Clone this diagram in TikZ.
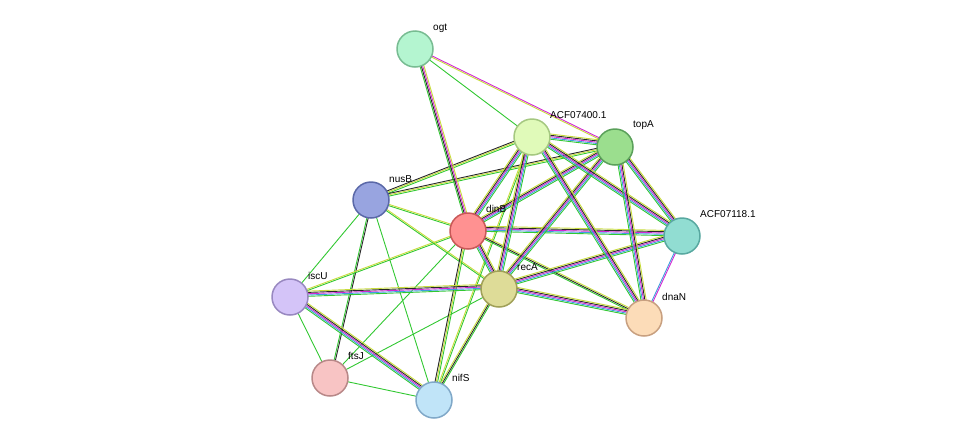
\documentclass[tikz,border=0pt]{standalone}
\usepackage{fontspec}
\setmainfont{Liberation Sans}
\usetikzlibrary{calc,positioning}
\definecolor{eGreen}{RGB}{50,200,50}
\definecolor{eMag}{RGB}{210,40,210}
\definecolor{eBlue}{RGB}{60,160,220}
\definecolor{eBlack}{RGB}{40,40,40}
\definecolor{eYel}{RGB}{200,220,60}
\tikzset{
  prot/.style={circle, line width=1.5pt, minimum size=36pt, inner sep=0pt},
  lbl/.style={font=\fontsize{10}{12}\selectfont, anchor=west, inner sep=0pt},
  bond/.style={line width=0.9pt}
}
% \edge{from}{to}{colour list}
\newcommand{\edge}[3]{%
  \foreach \c [count=\k] in {#3} {
    \pgfmathsetmacro{\off}{(\k-1)*1.3}
    \draw[bond, \c] ($(#1)!\off pt!90:(#2)$) -- ($(#2)!\off pt!-90:(#1)$);
  }}
\begin{document}
\begin{tikzpicture}[x=1pt, y=-1pt]
  \useasboundingbox (0,0) rectangle (976,445);
  % coordinates of the proteins
  \coordinate (ogt) at (415,49);
  \coordinate (acfa) at (532,137);
  \coordinate (topA) at (615,147);
  \coordinate (nusB) at (371,200);
  \coordinate (dinB) at (468,231);
  \coordinate (acfb) at (682,236);
  \coordinate (recA) at (499,289);
  \coordinate (iscU) at (290,297);
  \coordinate (dnaN) at (644,318);
  \coordinate (ftsJ) at (330,378);
  \coordinate (nifS) at (434,400);

  % simple links
  \edge{nusB}{iscU}{eGreen}
  \edge{nusB}{nifS}{eGreen}
  \edge{nusB}{ftsJ}{eGreen,eBlack}
  \edge{iscU}{ftsJ}{eGreen}
  \edge{ftsJ}{nifS}{eGreen}
  \edge{ftsJ}{dinB}{eGreen}
  \edge{ftsJ}{recA}{eGreen}
  \edge{iscU}{dinB}{eGreen,eYel}
  \edge{nusB}{dinB}{eGreen,eYel}
  \edge{nusB}{recA}{eGreen,eYel}
  \edge{nusB}{acfa}{eGreen,eYel,eBlack}
  \edge{nusB}{topA}{eGreen,eYel,eBlack}
  \edge{ogt}{acfa}{eGreen}
  \edge{ogt}{topA}{eYel,eMag}
  \edge{nifS}{acfa}{eGreen,eYel}
  \edge{nifS}{dinB}{eGreen,eYel,eBlack}
  \edge{nifS}{recA}{eGreen,eBlack,eYel}
  % rich links
  \edge{ogt}{dinB}{eGreen,eBlack,eMag,eYel}
  \edge{iscU}{recA}{eGreen,eBlue,eMag,eBlack,eYel}
  \edge{iscU}{nifS}{eGreen,eBlue,eMag,eBlack,eYel}
  \edge{dinB}{recA}{eGreen,eBlue,eMag,eBlack,eYel}
  \edge{dinB}{acfa}{eGreen,eBlue,eMag,eBlack,eYel}
  \edge{dinB}{topA}{eGreen,eBlue,eMag,eBlack,eYel}
  \edge{dinB}{acfb}{eGreen,eBlue,eMag,eBlack,eYel}
  \edge{dinB}{dnaN}{eGreen,eBlack,eYel}
  \edge{recA}{acfa}{eGreen,eBlue,eMag,eBlack,eYel}
  \edge{recA}{topA}{eGreen,eBlue,eMag,eBlack,eYel}
  \edge{recA}{acfb}{eGreen,eBlue,eMag,eBlack,eYel}
  \edge{recA}{dnaN}{eGreen,eBlue,eMag,eBlack,eYel}
  \edge{acfa}{topA}{eGreen,eBlue,eMag,eBlack,eYel}
  \edge{acfa}{acfb}{eGreen,eBlue,eMag,eBlack,eYel}
  \edge{acfa}{dnaN}{eGreen,eBlue,eMag,eBlack,eYel}
  \edge{topA}{acfb}{eGreen,eBlue,eMag,eBlack,eYel}
  \edge{topA}{dnaN}{eGreen,eBlue,eMag,eBlack,eYel}
  \edge{acfb}{dnaN}{eBlue,eMag}

  % protein nodes
  \node[prot, fill={rgb,255:red,180;green,245;blue,208}, draw={rgb,255:red,120;green,188;blue,146}] (n-ogt) at (ogt) {};
  \node[prot, fill={rgb,255:red,224;green,250;blue,185}, draw={rgb,255:red,165;green,200;blue,128}] (n-acfa) at (acfa) {};
  \node[prot, fill={rgb,255:red,155;green,222;blue,142}, draw={rgb,255:red,90;green,160;blue,90}] (n-topA) at (topA) {};
  \node[prot, fill={rgb,255:red,152;green,164;blue,224}, draw={rgb,255:red,90;green,104;blue,168}] (n-nusB) at (nusB) {};
  \node[prot, fill={rgb,255:red,255;green,145;blue,145}, draw={rgb,255:red,200;green,88;blue,88}] (n-dinB) at (dinB) {};
  \node[prot, fill={rgb,255:red,145;green,221;blue,210}, draw={rgb,255:red,88;green,168;blue,160}] (n-acfb) at (acfb) {};
  \node[prot, fill={rgb,255:red,222;green,220;blue,152}, draw={rgb,255:red,160;green,160;blue,88}] (n-recA) at (recA) {};
  \node[prot, fill={rgb,255:red,212;green,196;blue,248}, draw={rgb,255:red,152;green,136;blue,192}] (n-iscU) at (iscU) {};
  \node[prot, fill={rgb,255:red,252;green,220;blue,184}, draw={rgb,255:red,200;green,160;blue,128}] (n-dnaN) at (dnaN) {};
  \node[prot, fill={rgb,255:red,248;green,196;blue,196}, draw={rgb,255:red,184;green,136;blue,136}] (n-ftsJ) at (ftsJ) {};
  \node[prot, fill={rgb,255:red,192;green,228;blue,248}, draw={rgb,255:red,128;green,168;blue,200}] (n-nifS) at (nifS) {};

  % labels
  \node[lbl] at ($(ogt)+(18,-21)$) {ogt};
  \node[lbl] at ($(acfa)+(18,-22)$) {ACF07400.1};
  \node[lbl] at ($(topA)+(18,-22)$) {topA};
  \node[lbl] at ($(nusB)+(18,-21)$) {nusB};
  \node[lbl] at ($(dinB)+(18,-22)$) {dinB};
  \node[lbl] at ($(acfb)+(18,-22)$) {ACF07118.1};
  \node[lbl] at ($(recA)+(18,-22)$) {recA};
  \node[lbl] at ($(iscU)+(18,-21)$) {iscU};
  \node[lbl] at ($(dnaN)+(18,-21)$) {dnaN};
  \node[lbl] at ($(ftsJ)+(18,-22)$) {ftsJ};
  \node[lbl] at ($(nifS)+(18,-22)$) {nifS};
\end{tikzpicture}
\end{document}
